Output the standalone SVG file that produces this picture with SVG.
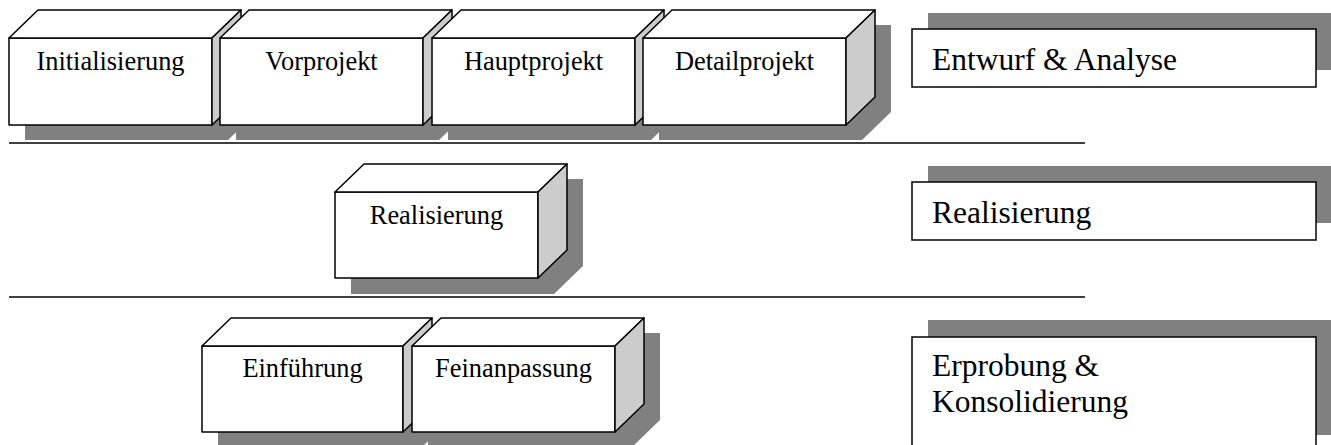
<svg xmlns="http://www.w3.org/2000/svg" width="1331" height="445" viewBox="0 0 1331 445">
<style>
.shadow{fill:#808080;stroke:none}
.front{fill:#ffffff;stroke:#000;stroke-width:1.5;stroke-linejoin:round}
.top{fill:#ffffff;stroke:#000;stroke-width:1.5;stroke-linejoin:round}
.side{fill:#cccccc;stroke:#000;stroke-width:1.5;stroke-linejoin:round}
.lbl{font-family:"Liberation Serif","Times New Roman",serif;font-size:26.4px;fill:#000;text-anchor:middle}
.phase{font-family:"Liberation Serif","Times New Roman",serif;font-size:31.5px;fill:#000}
.sep{stroke:#000;stroke-width:1.6}
.pbox{fill:#fff;stroke:#000;stroke-width:1.5}
</style>
<defs>
<!-- cube at origin: front 203x87, depth 29x28 -->
<path id="cubeShadow" d="M16 102 L16 15 L45 -13 L248 -13 L248 74 L219 102 Z"/>
</defs>
<rect width="1331" height="445" fill="#fff"/>

<g id="separators">
<line class="sep" x1="9" y1="143" x2="1085" y2="143"/>
<line class="sep" x1="9" y1="297" x2="1085" y2="297"/>
</g>

<g id="initialisierung" transform="translate(9,38)">
<use href="#cubeShadow" class="shadow"/>
<rect class="front" x="0" y="0" width="203" height="87"/>
<polygon class="top" points="0,0 29,-28 232,-28 203,0"/>
<polygon class="side" points="203,0 232,-28 232,59 203,87"/>
<text class="lbl" x="101.5" y="31.5">Initialisierung</text>
</g>
<g id="vorprojekt" transform="translate(220,38)">
<use href="#cubeShadow" class="shadow"/>
<rect class="front" x="0" y="0" width="203" height="87"/>
<polygon class="top" points="0,0 29,-28 232,-28 203,0"/>
<polygon class="side" points="203,0 232,-28 232,59 203,87"/>
<text class="lbl" x="101.5" y="31.5">Vorprojekt</text>
</g>
<g id="hauptprojekt" transform="translate(432,38)">
<use href="#cubeShadow" class="shadow"/>
<rect class="front" x="0" y="0" width="203" height="87"/>
<polygon class="top" points="0,0 29,-28 232,-28 203,0"/>
<polygon class="side" points="203,0 232,-28 232,59 203,87"/>
<text class="lbl" x="101.5" y="31.5">Hauptprojekt</text>
</g>
<g id="detailprojekt" transform="translate(643,38)">
<use href="#cubeShadow" class="shadow"/>
<rect class="front" x="0" y="0" width="203" height="87"/>
<polygon class="top" points="0,0 29,-28 232,-28 203,0"/>
<polygon class="side" points="203,0 232,-28 232,59 203,87"/>
<text class="lbl" x="101.5" y="31.5">Detailprojekt</text>
</g>

<g id="realisierung-cube" transform="translate(335,192)">
<use href="#cubeShadow" class="shadow"/>
<rect class="front" x="0" y="0" width="203" height="86"/>
<polygon class="top" points="0,0 29,-28 232,-28 203,0"/>
<polygon class="side" points="203,0 232,-28 232,58 203,86"/>
<text class="lbl" x="101.5" y="32">Realisierung</text>
</g>

<g id="einfuehrung" transform="translate(202,346)">
<use href="#cubeShadow" class="shadow"/>
<rect class="front" x="0" y="0" width="201" height="86"/>
<polygon class="top" points="0,0 29,-28 230,-28 201,0"/>
<polygon class="side" points="201,0 230,-28 230,58 201,86"/>
<text class="lbl" x="100.5" y="31">Einführung</text>
</g>
<g id="feinanpassung" transform="translate(412,346)">
<use href="#cubeShadow" class="shadow"/>
<rect class="front" x="0" y="0" width="203" height="86"/>
<polygon class="top" points="0,0 29,-28 232,-28 203,0"/>
<polygon class="side" points="203,0 232,-28 232,58 203,86"/>
<text class="lbl" x="101.5" y="31">Feinanpassung</text>
</g>

<g id="phase-entwurf">
<rect class="shadow" x="928" y="13" width="404" height="57"/>
<rect class="pbox" x="912" y="29" width="404" height="58"/>
<text class="phase" x="932" y="70">Entwurf &amp; Analyse</text>
</g>
<g id="phase-realisierung">
<rect class="shadow" x="928" y="166" width="404" height="57"/>
<rect class="pbox" x="912" y="182" width="404" height="58"/>
<text class="phase" x="932" y="223">Realisierung</text>
</g>
<g id="phase-erprobung">
<rect class="shadow" x="928" y="320" width="404" height="115"/>
<rect class="pbox" x="912" y="337" width="404" height="114"/>
<text class="phase" x="932" y="376">Erprobung &amp;</text>
<text class="phase" x="932" y="412">Konsolidierung</text>
</g>
</svg>
